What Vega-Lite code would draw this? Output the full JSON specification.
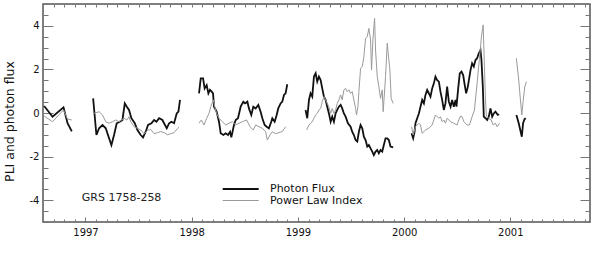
{
"$schema": "https://vega.github.io/schema/vega-lite/v6.json",
"width": 547, "height": 218,
"autosize": {"type": "none"},
"padding": {"left": 43, "top": 4, "right": 9, "bottom": 51},
"background": "white",
"config": {"view": {"stroke": "#555", "strokeWidth": 1.5}, "font": "DejaVu Sans"},
"datasets": {
"pts": [
{"series":"Photon Flux","seg":"p1","year":1996.611,"value":0.32},
{"series":"Photon Flux","seg":"p1","year":1996.690,"value":-0.17},
{"series":"Photon Flux","seg":"p1","year":1996.793,"value":0.26},
{"series":"Photon Flux","seg":"p1","year":1996.831,"value":-0.47},
{"series":"Photon Flux","seg":"p1","year":1996.871,"value":-0.84},
{"series":"Photon Flux","seg":"p2","year":1997.072,"value":0.67},
{"series":"Photon Flux","seg":"p2","year":1997.103,"value":-1.01},
{"series":"Photon Flux","seg":"p2","year":1997.128,"value":-0.70},
{"series":"Photon Flux","seg":"p2","year":1997.160,"value":-0.55},
{"series":"Photon Flux","seg":"p2","year":1997.191,"value":-0.70},
{"series":"Photon Flux","seg":"p2","year":1997.222,"value":-1.16},
{"series":"Photon Flux","seg":"p2","year":1997.244,"value":-1.47},
{"series":"Photon Flux","seg":"p2","year":1997.269,"value":-1.01},
{"series":"Photon Flux","seg":"p2","year":1997.294,"value":-0.47},
{"series":"Photon Flux","seg":"p2","year":1997.323,"value":-0.40},
{"series":"Photon Flux","seg":"p2","year":1997.348,"value":-0.32},
{"series":"Photon Flux","seg":"p2","year":1997.370,"value":0.44},
{"series":"Photon Flux","seg":"p2","year":1997.389,"value":0.29},
{"series":"Photon Flux","seg":"p2","year":1997.410,"value":0.14},
{"series":"Photon Flux","seg":"p2","year":1997.432,"value":-0.24},
{"series":"Photon Flux","seg":"p2","year":1997.464,"value":-0.47},
{"series":"Photon Flux","seg":"p2","year":1997.489,"value":-0.78},
{"series":"Photon Flux","seg":"p2","year":1997.520,"value":-1.01},
{"series":"Photon Flux","seg":"p2","year":1997.542,"value":-1.12},
{"series":"Photon Flux","seg":"p2","year":1997.567,"value":-0.86},
{"series":"Photon Flux","seg":"p2","year":1997.589,"value":-0.55},
{"series":"Photon Flux","seg":"p2","year":1997.621,"value":-0.47},
{"series":"Photon Flux","seg":"p2","year":1997.646,"value":-0.32},
{"series":"Photon Flux","seg":"p2","year":1997.668,"value":-0.40},
{"series":"Photon Flux","seg":"p2","year":1997.693,"value":-0.24},
{"series":"Photon Flux","seg":"p2","year":1997.724,"value":-0.32},
{"series":"Photon Flux","seg":"p2","year":1997.740,"value":-0.47},
{"series":"Photon Flux","seg":"p2","year":1997.765,"value":-0.70},
{"series":"Photon Flux","seg":"p2","year":1997.787,"value":-0.47},
{"series":"Photon Flux","seg":"p2","year":1997.809,"value":-0.40},
{"series":"Photon Flux","seg":"p2","year":1997.834,"value":-0.47},
{"series":"Photon Flux","seg":"p2","year":1997.859,"value":-0.02},
{"series":"Photon Flux","seg":"p2","year":1997.875,"value":0.06},
{"series":"Photon Flux","seg":"p2","year":1997.890,"value":0.60},
{"series":"Photon Flux","seg":"p3","year":1998.069,"value":0.90},
{"series":"Photon Flux","seg":"p3","year":1998.085,"value":1.59},
{"series":"Photon Flux","seg":"p3","year":1998.107,"value":1.59},
{"series":"Photon Flux","seg":"p3","year":1998.122,"value":1.13},
{"series":"Photon Flux","seg":"p3","year":1998.141,"value":1.28},
{"series":"Photon Flux","seg":"p3","year":1998.157,"value":0.90},
{"series":"Photon Flux","seg":"p3","year":1998.172,"value":1.06},
{"series":"Photon Flux","seg":"p3","year":1998.188,"value":0.98},
{"series":"Photon Flux","seg":"p3","year":1998.201,"value":0.90},
{"series":"Photon Flux","seg":"p3","year":1998.210,"value":0.29},
{"series":"Photon Flux","seg":"p3","year":1998.235,"value":0.06},
{"series":"Photon Flux","seg":"p3","year":1998.257,"value":-0.40},
{"series":"Photon Flux","seg":"p3","year":1998.273,"value":-0.93},
{"series":"Photon Flux","seg":"p3","year":1998.298,"value":-1.01},
{"series":"Photon Flux","seg":"p3","year":1998.320,"value":-0.93},
{"series":"Photon Flux","seg":"p3","year":1998.342,"value":-1.01},
{"series":"Photon Flux","seg":"p3","year":1998.361,"value":-0.86},
{"series":"Photon Flux","seg":"p3","year":1998.373,"value":-1.12},
{"series":"Photon Flux","seg":"p3","year":1998.398,"value":-0.55},
{"series":"Photon Flux","seg":"p3","year":1998.414,"value":-0.32},
{"series":"Photon Flux","seg":"p3","year":1998.436,"value":-0.24},
{"series":"Photon Flux","seg":"p3","year":1998.461,"value":0.29},
{"series":"Photon Flux","seg":"p3","year":1998.486,"value":0.52},
{"series":"Photon Flux","seg":"p3","year":1998.502,"value":0.44},
{"series":"Photon Flux","seg":"p3","year":1998.524,"value":0.52},
{"series":"Photon Flux","seg":"p3","year":1998.539,"value":0.21},
{"series":"Photon Flux","seg":"p3","year":1998.561,"value":-0.09},
{"series":"Photon Flux","seg":"p3","year":1998.580,"value":0.29},
{"series":"Photon Flux","seg":"p3","year":1998.602,"value":0.21},
{"series":"Photon Flux","seg":"p3","year":1998.627,"value":0.37},
{"series":"Photon Flux","seg":"p3","year":1998.649,"value":0.06},
{"series":"Photon Flux","seg":"p3","year":1998.665,"value":-0.24},
{"series":"Photon Flux","seg":"p3","year":1998.687,"value":-0.55},
{"series":"Photon Flux","seg":"p3","year":1998.706,"value":-0.63},
{"series":"Photon Flux","seg":"p3","year":1998.727,"value":-0.70},
{"series":"Photon Flux","seg":"p3","year":1998.749,"value":-0.40},
{"series":"Photon Flux","seg":"p3","year":1998.759,"value":-0.24},
{"series":"Photon Flux","seg":"p3","year":1998.781,"value":-0.40},
{"series":"Photon Flux","seg":"p3","year":1998.800,"value":-0.09},
{"series":"Photon Flux","seg":"p3","year":1998.815,"value":0.21},
{"series":"Photon Flux","seg":"p3","year":1998.837,"value":0.44},
{"series":"Photon Flux","seg":"p3","year":1998.853,"value":0.52},
{"series":"Photon Flux","seg":"p3","year":1998.869,"value":0.83},
{"series":"Photon Flux","seg":"p3","year":1998.884,"value":0.90},
{"series":"Photon Flux","seg":"p3","year":1998.900,"value":1.32},
{"series":"Photon Flux","seg":"p4","year":1999.072,"value":0.14},
{"series":"Photon Flux","seg":"p4","year":1999.088,"value":-0.24},
{"series":"Photon Flux","seg":"p4","year":1999.104,"value":0.60},
{"series":"Photon Flux","seg":"p4","year":1999.119,"value":0.90},
{"series":"Photon Flux","seg":"p4","year":1999.135,"value":0.75},
{"series":"Photon Flux","seg":"p4","year":1999.151,"value":1.67},
{"series":"Photon Flux","seg":"p4","year":1999.167,"value":1.82},
{"series":"Photon Flux","seg":"p4","year":1999.182,"value":1.44},
{"series":"Photon Flux","seg":"p4","year":1999.198,"value":1.67},
{"series":"Photon Flux","seg":"p4","year":1999.214,"value":1.51},
{"series":"Photon Flux","seg":"p4","year":1999.229,"value":1.13},
{"series":"Photon Flux","seg":"p4","year":1999.245,"value":0.75},
{"series":"Photon Flux","seg":"p4","year":1999.261,"value":0.60},
{"series":"Photon Flux","seg":"p4","year":1999.276,"value":0.29},
{"series":"Photon Flux","seg":"p4","year":1999.292,"value":-0.02},
{"series":"Photon Flux","seg":"p4","year":1999.308,"value":-0.40},
{"series":"Photon Flux","seg":"p4","year":1999.323,"value":-0.17},
{"series":"Photon Flux","seg":"p4","year":1999.339,"value":-0.40},
{"series":"Photon Flux","seg":"p4","year":1999.355,"value":-0.02},
{"series":"Photon Flux","seg":"p4","year":1999.370,"value":0.14},
{"series":"Photon Flux","seg":"p4","year":1999.386,"value":0.29},
{"series":"Photon Flux","seg":"p4","year":1999.402,"value":0.37},
{"series":"Photon Flux","seg":"p4","year":1999.417,"value":0.21},
{"series":"Photon Flux","seg":"p4","year":1999.433,"value":-0.02},
{"series":"Photon Flux","seg":"p4","year":1999.449,"value":-0.17},
{"series":"Photon Flux","seg":"p4","year":1999.471,"value":-0.47},
{"series":"Photon Flux","seg":"p4","year":1999.496,"value":-0.63},
{"series":"Photon Flux","seg":"p4","year":1999.511,"value":-0.86},
{"series":"Photon Flux","seg":"p4","year":1999.527,"value":-1.01},
{"series":"Photon Flux","seg":"p4","year":1999.543,"value":-1.24},
{"series":"Photon Flux","seg":"p4","year":1999.559,"value":-1.31},
{"series":"Photon Flux","seg":"p4","year":1999.574,"value":-0.86},
{"series":"Photon Flux","seg":"p4","year":1999.590,"value":-0.55},
{"series":"Photon Flux","seg":"p4","year":1999.606,"value":-0.70},
{"series":"Photon Flux","seg":"p4","year":1999.621,"value":-1.09},
{"series":"Photon Flux","seg":"p4","year":1999.637,"value":-1.24},
{"series":"Photon Flux","seg":"p4","year":1999.653,"value":-1.54},
{"series":"Photon Flux","seg":"p4","year":1999.668,"value":-1.47},
{"series":"Photon Flux","seg":"p4","year":1999.684,"value":-1.62},
{"series":"Photon Flux","seg":"p4","year":1999.700,"value":-1.77},
{"series":"Photon Flux","seg":"p4","year":1999.715,"value":-1.93},
{"series":"Photon Flux","seg":"p4","year":1999.731,"value":-1.77},
{"series":"Photon Flux","seg":"p4","year":1999.747,"value":-1.70},
{"series":"Photon Flux","seg":"p4","year":1999.762,"value":-1.85},
{"series":"Photon Flux","seg":"p4","year":1999.778,"value":-1.70},
{"series":"Photon Flux","seg":"p4","year":1999.794,"value":-1.77},
{"series":"Photon Flux","seg":"p4","year":1999.809,"value":-1.47},
{"series":"Photon Flux","seg":"p4","year":1999.825,"value":-1.16},
{"series":"Photon Flux","seg":"p4","year":1999.841,"value":-1.16},
{"series":"Photon Flux","seg":"p4","year":1999.856,"value":-1.24},
{"series":"Photon Flux","seg":"p4","year":1999.872,"value":-1.54},
{"series":"Photon Flux","seg":"p4","year":1999.897,"value":-1.58},
{"series":"Photon Flux","seg":"p5","year":2000.070,"value":-0.93},
{"series":"Photon Flux","seg":"p5","year":2000.085,"value":-1.16},
{"series":"Photon Flux","seg":"p5","year":2000.098,"value":-0.86},
{"series":"Photon Flux","seg":"p5","year":2000.107,"value":-0.47},
{"series":"Photon Flux","seg":"p5","year":2000.123,"value":-0.24},
{"series":"Photon Flux","seg":"p5","year":2000.139,"value":-0.02},
{"series":"Photon Flux","seg":"p5","year":2000.154,"value":0.29},
{"series":"Photon Flux","seg":"p5","year":2000.170,"value":0.60},
{"series":"Photon Flux","seg":"p5","year":2000.186,"value":0.44},
{"series":"Photon Flux","seg":"p5","year":2000.201,"value":0.83},
{"series":"Photon Flux","seg":"p5","year":2000.217,"value":1.06},
{"series":"Photon Flux","seg":"p5","year":2000.233,"value":0.90},
{"series":"Photon Flux","seg":"p5","year":2000.248,"value":0.75},
{"series":"Photon Flux","seg":"p5","year":2000.264,"value":1.13},
{"series":"Photon Flux","seg":"p5","year":2000.280,"value":1.36},
{"series":"Photon Flux","seg":"p5","year":2000.295,"value":1.67},
{"series":"Photon Flux","seg":"p5","year":2000.311,"value":1.51},
{"series":"Photon Flux","seg":"p5","year":2000.327,"value":1.44},
{"series":"Photon Flux","seg":"p5","year":2000.342,"value":0.98},
{"series":"Photon Flux","seg":"p5","year":2000.358,"value":0.60},
{"series":"Photon Flux","seg":"p5","year":2000.374,"value":0.14},
{"series":"Photon Flux","seg":"p5","year":2000.389,"value":0.44},
{"series":"Photon Flux","seg":"p5","year":2000.405,"value":1.21},
{"series":"Photon Flux","seg":"p5","year":2000.421,"value":0.52},
{"series":"Photon Flux","seg":"p5","year":2000.437,"value":0.29},
{"series":"Photon Flux","seg":"p5","year":2000.452,"value":0.60},
{"series":"Photon Flux","seg":"p5","year":2000.468,"value":0.29},
{"series":"Photon Flux","seg":"p5","year":2000.484,"value":0.60},
{"series":"Photon Flux","seg":"p5","year":2000.493,"value":0.29},
{"series":"Photon Flux","seg":"p5","year":2000.509,"value":1.13},
{"series":"Photon Flux","seg":"p5","year":2000.524,"value":1.82},
{"series":"Photon Flux","seg":"p5","year":2000.540,"value":1.90},
{"series":"Photon Flux","seg":"p5","year":2000.556,"value":1.74},
{"series":"Photon Flux","seg":"p5","year":2000.568,"value":1.36},
{"series":"Photon Flux","seg":"p5","year":2000.584,"value":0.90},
{"series":"Photon Flux","seg":"p5","year":2000.600,"value":1.21},
{"series":"Photon Flux","seg":"p5","year":2000.625,"value":1.97},
{"series":"Photon Flux","seg":"p5","year":2000.640,"value":2.28},
{"series":"Photon Flux","seg":"p5","year":2000.656,"value":2.13},
{"series":"Photon Flux","seg":"p5","year":2000.672,"value":2.43},
{"series":"Photon Flux","seg":"p5","year":2000.687,"value":2.51},
{"series":"Photon Flux","seg":"p5","year":2000.703,"value":2.74},
{"series":"Photon Flux","seg":"p5","year":2000.719,"value":2.89},
{"series":"Photon Flux","seg":"p5","year":2000.728,"value":2.43},
{"series":"Photon Flux","seg":"p5","year":2000.741,"value":1.21},
{"series":"Photon Flux","seg":"p5","year":2000.750,"value":-0.17},
{"series":"Photon Flux","seg":"p5","year":2000.766,"value":-0.24},
{"series":"Photon Flux","seg":"p5","year":2000.782,"value":-0.32},
{"series":"Photon Flux","seg":"p5","year":2000.797,"value":-0.17},
{"series":"Photon Flux","seg":"p5","year":2000.813,"value":0.21},
{"series":"Photon Flux","seg":"p5","year":2000.829,"value":-0.17},
{"series":"Photon Flux","seg":"p5","year":2000.844,"value":-0.02},
{"series":"Photon Flux","seg":"p5","year":2000.860,"value":0.06},
{"series":"Photon Flux","seg":"p5","year":2000.882,"value":-0.09},
{"series":"Photon Flux","seg":"p5","year":2000.894,"value":-0.06},
{"series":"Photon Flux","seg":"p6","year":2001.057,"value":-0.09},
{"series":"Photon Flux","seg":"p6","year":2001.079,"value":-0.47},
{"series":"Photon Flux","seg":"p6","year":2001.108,"value":-1.09},
{"series":"Photon Flux","seg":"p6","year":2001.120,"value":-0.47},
{"series":"Photon Flux","seg":"p6","year":2001.133,"value":-0.29},
{"series":"Photon Flux","seg":"p6","year":2001.145,"value":-0.24},
{"series":"Power Law Index","seg":"g1","year":1996.611,"value":-0.14},
{"series":"Power Law Index","seg":"g1","year":1996.690,"value":-0.40},
{"series":"Power Law Index","seg":"g1","year":1996.793,"value":0.14},
{"series":"Power Law Index","seg":"g1","year":1996.831,"value":-0.28},
{"series":"Power Law Index","seg":"g1","year":1996.871,"value":-0.32},
{"series":"Power Law Index","seg":"g2","year":1997.081,"value":-0.02},
{"series":"Power Law Index","seg":"g2","year":1997.128,"value":0.06},
{"series":"Power Law Index","seg":"g2","year":1997.160,"value":-0.09},
{"series":"Power Law Index","seg":"g2","year":1997.191,"value":-0.40},
{"series":"Power Law Index","seg":"g2","year":1997.222,"value":-0.47},
{"series":"Power Law Index","seg":"g2","year":1997.254,"value":-0.40},
{"series":"Power Law Index","seg":"g2","year":1997.285,"value":-0.32},
{"series":"Power Law Index","seg":"g2","year":1997.316,"value":-0.40},
{"series":"Power Law Index","seg":"g2","year":1997.363,"value":-0.24},
{"series":"Power Law Index","seg":"g2","year":1997.389,"value":-0.32},
{"series":"Power Law Index","seg":"g2","year":1997.410,"value":-0.17},
{"series":"Power Law Index","seg":"g2","year":1997.426,"value":-0.40},
{"series":"Power Law Index","seg":"g2","year":1997.457,"value":-0.63},
{"series":"Power Law Index","seg":"g2","year":1997.489,"value":-0.70},
{"series":"Power Law Index","seg":"g2","year":1997.520,"value":-0.78},
{"series":"Power Law Index","seg":"g2","year":1997.552,"value":-0.95},
{"series":"Power Law Index","seg":"g2","year":1997.583,"value":-0.80},
{"series":"Power Law Index","seg":"g2","year":1997.614,"value":-0.75},
{"series":"Power Law Index","seg":"g2","year":1997.646,"value":-0.95},
{"series":"Power Law Index","seg":"g2","year":1997.677,"value":-0.90},
{"series":"Power Law Index","seg":"g2","year":1997.708,"value":-0.85},
{"series":"Power Law Index","seg":"g2","year":1997.740,"value":-0.90},
{"series":"Power Law Index","seg":"g2","year":1997.771,"value":-1.00},
{"series":"Power Law Index","seg":"g2","year":1997.802,"value":-0.95},
{"series":"Power Law Index","seg":"g2","year":1997.834,"value":-0.90},
{"series":"Power Law Index","seg":"g2","year":1997.865,"value":-0.72},
{"series":"Power Law Index","seg":"g2","year":1997.881,"value":-0.65},
{"series":"Power Law Index","seg":"g3","year":1998.069,"value":-0.47},
{"series":"Power Law Index","seg":"g3","year":1998.091,"value":-0.32},
{"series":"Power Law Index","seg":"g3","year":1998.116,"value":-0.55},
{"series":"Power Law Index","seg":"g3","year":1998.141,"value":-0.24},
{"series":"Power Law Index","seg":"g3","year":1998.163,"value":-0.02},
{"series":"Power Law Index","seg":"g3","year":1998.185,"value":0.37},
{"series":"Power Law Index","seg":"g3","year":1998.204,"value":0.60},
{"series":"Power Law Index","seg":"g3","year":1998.216,"value":0.29},
{"series":"Power Law Index","seg":"g3","year":1998.235,"value":-0.02},
{"series":"Power Law Index","seg":"g3","year":1998.257,"value":-0.24},
{"series":"Power Law Index","seg":"g3","year":1998.289,"value":-0.40},
{"series":"Power Law Index","seg":"g3","year":1998.320,"value":-0.55},
{"series":"Power Law Index","seg":"g3","year":1998.351,"value":-0.47},
{"series":"Power Law Index","seg":"g3","year":1998.383,"value":-0.40},
{"series":"Power Law Index","seg":"g3","year":1998.414,"value":-0.55},
{"series":"Power Law Index","seg":"g3","year":1998.445,"value":-0.47},
{"series":"Power Law Index","seg":"g3","year":1998.477,"value":-0.40},
{"series":"Power Law Index","seg":"g3","year":1998.517,"value":-0.32},
{"series":"Power Law Index","seg":"g3","year":1998.549,"value":-0.63},
{"series":"Power Law Index","seg":"g3","year":1998.580,"value":-0.78},
{"series":"Power Law Index","seg":"g3","year":1998.602,"value":-0.55},
{"series":"Power Law Index","seg":"g3","year":1998.633,"value":-0.63},
{"series":"Power Law Index","seg":"g3","year":1998.665,"value":-0.70},
{"series":"Power Law Index","seg":"g3","year":1998.696,"value":-0.86},
{"series":"Power Law Index","seg":"g3","year":1998.712,"value":-1.24},
{"series":"Power Law Index","seg":"g3","year":1998.737,"value":-1.01},
{"series":"Power Law Index","seg":"g3","year":1998.759,"value":-0.86},
{"series":"Power Law Index","seg":"g3","year":1998.790,"value":-0.95},
{"series":"Power Law Index","seg":"g3","year":1998.822,"value":-0.90},
{"series":"Power Law Index","seg":"g3","year":1998.853,"value":-0.85},
{"series":"Power Law Index","seg":"g3","year":1998.884,"value":-0.63},
{"series":"Power Law Index","seg":"g4","year":1999.082,"value":-0.78},
{"series":"Power Law Index","seg":"g4","year":1999.104,"value":-0.55},
{"series":"Power Law Index","seg":"g4","year":1999.119,"value":-0.47},
{"series":"Power Law Index","seg":"g4","year":1999.135,"value":-0.40},
{"series":"Power Law Index","seg":"g4","year":1999.151,"value":-0.24},
{"series":"Power Law Index","seg":"g4","year":1999.167,"value":-0.09},
{"series":"Power Law Index","seg":"g4","year":1999.182,"value":-0.02},
{"series":"Power Law Index","seg":"g4","year":1999.198,"value":0.14},
{"series":"Power Law Index","seg":"g4","year":1999.214,"value":0.21},
{"series":"Power Law Index","seg":"g4","year":1999.229,"value":0.52},
{"series":"Power Law Index","seg":"g4","year":1999.245,"value":0.75},
{"series":"Power Law Index","seg":"g4","year":1999.261,"value":0.60},
{"series":"Power Law Index","seg":"g4","year":1999.276,"value":0.44},
{"series":"Power Law Index","seg":"g4","year":1999.292,"value":0.29},
{"series":"Power Law Index","seg":"g4","year":1999.308,"value":-0.02},
{"series":"Power Law Index","seg":"g4","year":1999.323,"value":0.21},
{"series":"Power Law Index","seg":"g4","year":1999.339,"value":-0.02},
{"series":"Power Law Index","seg":"g4","year":1999.355,"value":0.14},
{"series":"Power Law Index","seg":"g4","year":1999.370,"value":0.44},
{"series":"Power Law Index","seg":"g4","year":1999.386,"value":0.60},
{"series":"Power Law Index","seg":"g4","year":1999.402,"value":0.83},
{"series":"Power Law Index","seg":"g4","year":1999.417,"value":0.60},
{"series":"Power Law Index","seg":"g4","year":1999.433,"value":1.06},
{"series":"Power Law Index","seg":"g4","year":1999.449,"value":1.13},
{"series":"Power Law Index","seg":"g4","year":1999.464,"value":0.98},
{"series":"Power Law Index","seg":"g4","year":1999.480,"value":1.06},
{"series":"Power Law Index","seg":"g4","year":1999.496,"value":0.90},
{"series":"Power Law Index","seg":"g4","year":1999.511,"value":0.98},
{"series":"Power Law Index","seg":"g4","year":1999.527,"value":0.60},
{"series":"Power Law Index","seg":"g4","year":1999.543,"value":0.21},
{"series":"Power Law Index","seg":"g4","year":1999.552,"value":-0.09},
{"series":"Power Law Index","seg":"g4","year":1999.565,"value":0.29},
{"series":"Power Law Index","seg":"g4","year":1999.574,"value":0.98},
{"series":"Power Law Index","seg":"g4","year":1999.590,"value":2.05},
{"series":"Power Law Index","seg":"g4","year":1999.606,"value":2.13},
{"series":"Power Law Index","seg":"g4","year":1999.621,"value":2.58},
{"series":"Power Law Index","seg":"g4","year":1999.637,"value":3.43},
{"series":"Power Law Index","seg":"g4","year":1999.653,"value":3.50},
{"series":"Power Law Index","seg":"g4","year":1999.668,"value":3.88},
{"series":"Power Law Index","seg":"g4","year":1999.684,"value":3.35},
{"series":"Power Law Index","seg":"g4","year":1999.693,"value":1.97},
{"series":"Power Law Index","seg":"g4","year":1999.706,"value":3.35},
{"series":"Power Law Index","seg":"g4","year":1999.722,"value":4.34},
{"series":"Power Law Index","seg":"g4","year":1999.731,"value":2.89},
{"series":"Power Law Index","seg":"g4","year":1999.747,"value":1.67},
{"series":"Power Law Index","seg":"g4","year":1999.762,"value":1.21},
{"series":"Power Law Index","seg":"g4","year":1999.778,"value":0.67},
{"series":"Power Law Index","seg":"g4","year":1999.794,"value":1.06},
{"series":"Power Law Index","seg":"g4","year":1999.803,"value":0.06},
{"series":"Power Law Index","seg":"g4","year":1999.825,"value":1.67},
{"series":"Power Law Index","seg":"g4","year":1999.841,"value":3.20},
{"series":"Power Law Index","seg":"g4","year":1999.850,"value":2.74},
{"series":"Power Law Index","seg":"g4","year":1999.866,"value":1.97},
{"series":"Power Law Index","seg":"g4","year":1999.878,"value":0.67},
{"series":"Power Law Index","seg":"g4","year":1999.897,"value":0.44},
{"series":"Power Law Index","seg":"g5","year":2000.070,"value":-0.63},
{"series":"Power Law Index","seg":"g5","year":2000.085,"value":-1.01},
{"series":"Power Law Index","seg":"g5","year":2000.107,"value":-0.63},
{"series":"Power Law Index","seg":"g5","year":2000.139,"value":-0.47},
{"series":"Power Law Index","seg":"g5","year":2000.154,"value":-0.55},
{"series":"Power Law Index","seg":"g5","year":2000.170,"value":-0.93},
{"series":"Power Law Index","seg":"g5","year":2000.201,"value":-0.78},
{"series":"Power Law Index","seg":"g5","year":2000.233,"value":-0.70},
{"series":"Power Law Index","seg":"g5","year":2000.264,"value":-0.55},
{"series":"Power Law Index","seg":"g5","year":2000.295,"value":-0.09},
{"series":"Power Law Index","seg":"g5","year":2000.311,"value":-0.17},
{"series":"Power Law Index","seg":"g5","year":2000.327,"value":-0.24},
{"series":"Power Law Index","seg":"g5","year":2000.342,"value":-0.17},
{"series":"Power Law Index","seg":"g5","year":2000.358,"value":-0.40},
{"series":"Power Law Index","seg":"g5","year":2000.374,"value":-0.32},
{"series":"Power Law Index","seg":"g5","year":2000.389,"value":-0.47},
{"series":"Power Law Index","seg":"g5","year":2000.405,"value":-0.24},
{"series":"Power Law Index","seg":"g5","year":2000.421,"value":-0.32},
{"series":"Power Law Index","seg":"g5","year":2000.437,"value":-0.40},
{"series":"Power Law Index","seg":"g5","year":2000.468,"value":-0.47},
{"series":"Power Law Index","seg":"g5","year":2000.499,"value":-0.55},
{"series":"Power Law Index","seg":"g5","year":2000.515,"value":-0.32},
{"series":"Power Law Index","seg":"g5","year":2000.531,"value":-0.14},
{"series":"Power Law Index","seg":"g5","year":2000.546,"value":-0.17},
{"series":"Power Law Index","seg":"g5","year":2000.562,"value":-0.40},
{"series":"Power Law Index","seg":"g5","year":2000.593,"value":-0.55},
{"series":"Power Law Index","seg":"g5","year":2000.615,"value":-0.55},
{"series":"Power Law Index","seg":"g5","year":2000.640,"value":-0.17},
{"series":"Power Law Index","seg":"g5","year":2000.662,"value":0.14},
{"series":"Power Law Index","seg":"g5","year":2000.687,"value":1.36},
{"series":"Power Law Index","seg":"g5","year":2000.709,"value":2.51},
{"series":"Power Law Index","seg":"g5","year":2000.728,"value":3.50},
{"series":"Power Law Index","seg":"g5","year":2000.744,"value":4.04},
{"series":"Power Law Index","seg":"g5","year":2000.756,"value":2.13},
{"series":"Power Law Index","seg":"g5","year":2000.766,"value":0.60},
{"series":"Power Law Index","seg":"g5","year":2000.775,"value":-0.17},
{"series":"Power Law Index","seg":"g5","year":2000.797,"value":-0.24},
{"series":"Power Law Index","seg":"g5","year":2000.819,"value":-0.32},
{"series":"Power Law Index","seg":"g5","year":2000.838,"value":-0.55},
{"series":"Power Law Index","seg":"g5","year":2000.860,"value":-0.47},
{"series":"Power Law Index","seg":"g5","year":2000.876,"value":-0.63},
{"series":"Power Law Index","seg":"g5","year":2000.898,"value":-0.47},
{"series":"Power Law Index","seg":"g6","year":2001.057,"value":2.51},
{"series":"Power Law Index","seg":"g6","year":2001.079,"value":1.51},
{"series":"Power Law Index","seg":"g6","year":2001.095,"value":0.60},
{"series":"Power Law Index","seg":"g6","year":2001.108,"value":-0.09},
{"series":"Power Law Index","seg":"g6","year":2001.120,"value":0.52},
{"series":"Power Law Index","seg":"g6","year":2001.136,"value":1.21},
{"series":"Power Law Index","seg":"g6","year":2001.151,"value":1.44}
],
"note": [{"label": "GRS 1758-258", "year": 1996.965, "value": -3.91}]
},
"layer": [
{
"data": {"name": "pts"},
"mark": {"type": "line", "strokeJoin": "miter"},
"encoding": {
"x": {"field": "year", "type": "quantitative",
 "scale": {"domain": [1996.6, 2001.75], "nice": false, "zero": false},
 "axis": {"orient": "bottom", "title": null, "domain": false, "grid": false,
  "values": [1996.7,1996.8,1996.9,1997,1997.1,1997.2,1997.3,1997.4,1997.5,1997.6,1997.7,1997.8,1997.9,1998,1998.1,1998.2,1998.3,1998.4,1998.5,1998.6,1998.7,1998.8,1998.9,1999,1999.1,1999.2,1999.3,1999.4,1999.5,1999.6,1999.7,1999.8,1999.9,2000,2000.1,2000.2,2000.3,2000.4,2000.5,2000.6,2000.7,2000.8,2000.9,2001,2001.1,2001.2,2001.3,2001.4,2001.5,2001.6,2001.7],
  "labelExpr": "abs(datum.value - round(datum.value)) < 0.01 ? '' + round(datum.value) : ''",
  "tickSize": {"condition": {"test": "abs(datum.value - round(datum.value)) < 0.01", "value": -5}, "value": -3},
  "tickColor": "#777", "tickWidth": 1,
  "labelFontSize": 10, "labelColor": "#111", "labelPadding": 10.5, "labelFlush": false, "labelOverlap": false}},
"y": {"field": "value", "type": "quantitative",
 "scale": {"domain": [-5, 5], "nice": false, "zero": false},
 "axis": {"orient": "left", "domain": false, "grid": false,
  "values": [-5,-4.5,-4,-3.5,-3,-2.5,-2,-1.5,-1,-0.5,0,0.5,1,1.5,2,2.5,3,3.5,4,4.5,5],
  "labelExpr": "datum.value % 2 === 0 ? '' + datum.value : ''",
  "tickSize": {"condition": {"test": "datum.value % 2 === 0", "value": -10}, "value": -5},
  "tickColor": "#777", "tickWidth": 1,
  "labelFontSize": 10, "labelColor": "#111", "labelPadding": 14, "labelOverlap": false,
  "title": "PLI and photon flux", "titleFontSize": 12.5, "titleFontWeight": "normal", "titleColor": "#111",
  "titleX": -27, "titleY": 117}},
"color": {"field": "series", "type": "nominal",
 "scale": {"domain": ["Photon Flux", "Power Law Index"], "range": ["#111111", "#9a9a9a"]},
 "legend": {"title": null, "orient": "none", "legendX": 179.7, "legendY": 178, "symbolType": "M-3,0H3", "symbolSize": 144, "symbolOffset": 11, "labelFontSize": 11, "labelColor": "#111", "labelOffset": 22.3, "padding": 0, "rowPadding": 0}},
"strokeWidth": {"field": "series", "type": "ordinal",
 "scale": {"domain": ["Photon Flux", "Power Law Index"], "range": [1.8, 1]},
 "legend": {"title": null, "orient": "none", "legendX": 179.7, "legendY": 178, "symbolType": "M-3,0H3", "symbolSize": 144, "symbolOffset": 11, "labelFontSize": 11, "labelColor": "#111", "labelOffset": 22.3, "padding": 0, "rowPadding": 0}},
"detail": {"field": "seg", "type": "nominal"}
}
},
{
"data": {"name": "note"},
"mark": {"type": "text", "align": "left", "baseline": "middle", "fontSize": 11, "color": "#222"},
"encoding": {
"x": {"field": "year", "type": "quantitative",
 "axis": {"orient": "top", "title": null, "domain": false, "grid": false, "labels": false,
  "values": [1996.7,1996.8,1996.9,1997,1997.1,1997.2,1997.3,1997.4,1997.5,1997.6,1997.7,1997.8,1997.9,1998,1998.1,1998.2,1998.3,1998.4,1998.5,1998.6,1998.7,1998.8,1998.9,1999,1999.1,1999.2,1999.3,1999.4,1999.5,1999.6,1999.7,1999.8,1999.9,2000,2000.1,2000.2,2000.3,2000.4,2000.5,2000.6,2000.7,2000.8,2000.9,2001,2001.1,2001.2,2001.3,2001.4,2001.5,2001.6,2001.7],
  "tickSize": -3, "tickColor": "#777", "tickWidth": 1}},
"y": {"field": "value", "type": "quantitative",
 "axis": {"orient": "right", "title": null, "domain": false, "grid": false, "labels": false,
  "values": [-5,-4.5,-4,-3.5,-3,-2.5,-2,-1.5,-1,-0.5,0,0.5,1,1.5,2,2.5,3,3.5,4,4.5,5],
  "tickSize": {"condition": {"test": "datum.value % 2 === 0", "value": -10}, "value": -5},
  "tickColor": "#777", "tickWidth": 1}},
"text": {"field": "label", "type": "nominal"}
}
}
],
"resolve": {"axis": {"x": "independent", "y": "independent"}}
}
